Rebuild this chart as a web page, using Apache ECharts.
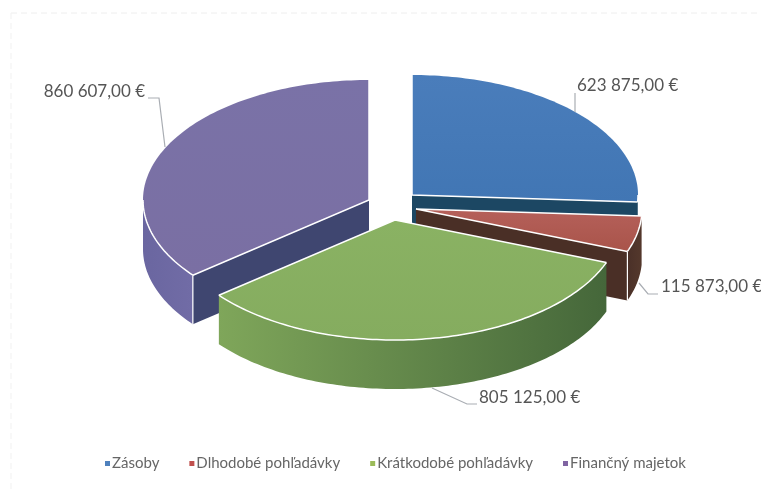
<!DOCTYPE html>
<html>
<head>
<meta charset="utf-8">
<style>
  html, body { margin: 0; padding: 0; background: #fff; }
  #chart { width: 761px; height: 489px; }
</style>
<script src="https://cdn.jsdelivr.net/npm/echarts@6/dist/echarts.min.js"></script>
</head>
<body>
<div id="chart"></div>
<script>
const categories = ['Zásoby', 'Dlhodobé pohľadávky', 'Krátkodobé pohľadávky', 'Finančný majetok'];
const values = [623875, 115873, 805125, 860607];

const total = values.reduce((a, b) => a + b, 0);

// pie geometry: ellipse of the tilted pie and its depth
const pieCenter = [393, 209];
const rx = 226, ry = 120, depth = 49;
// how far each slice is pulled out of the pie
const explode = [[19, -14], [23, 0], [2, 11], [-24, -9]];
// paint order, back to front
const paintOrder = [1, 2, 3, 0];

const topColor = [
  ['#4a7dbb', '#4176b4'], ['#b5605a', '#a9544a'], ['#8ab263', '#85ac5f'], ['#7a72a7', '#7a6fa3']
];
const faceColor = ['#1c4763', '#4a2f26', '#4a6d38', '#3f4670'];
const wallColor = [
  ['#1c4763', '#1c4763'], ['#4a3028', '#54382c'], ['#7fa65a', '#45673a'], ['#6a66a0', '#716ca6']
];
const legendColor = ['#4f81bd', '#c0504d', '#9bbb59', '#8064a2'];

const labelPos = [
  { x: 577, y: 86, align: 'left', line: [[575, 93], [575, 112]] },
  { x: 661, y: 287, align: 'left', line: [[639, 283], [648, 294], [658, 294]] },
  { x: 479, y: 398, align: 'left', line: [[432, 388], [467, 404], [477, 404]] },
  { x: 145, y: 92, align: 'right', line: [[148, 98], [159, 98], [165, 147]] }
];

function money(v) {
  return String(v).replace(/\B(?=(\d{3})+$)/g, ' ') + ',00 €';
}

function sliceAngles(i) {
  let before = 0;
  for (let k = 0; k < i; k++) before += values[k];
  return [before / total * Math.PI * 2, (before + values[i]) / total * Math.PI * 2];
}

function gradient(a, b, vertical) {
  return new echarts.graphic.LinearGradient(0, 0, vertical ? 0 : 1, vertical ? 1 : 0, [
    { offset: 0, color: a }, { offset: 1, color: b }
  ]);
}

function renderSlice(params, api) {
  const i = params.seriesIndex;
  const [a0, a1] = sliceAngles(i);
  const cx = pieCenter[0] + explode[i][0];
  const cy = pieCenter[1] + explode[i][1];
  const pt = (a, h) => [cx + rx * Math.sin(a), cy - ry * Math.cos(a) + (h || 0)];
  const arc = (from, to, h) => {
    const pts = [];
    const n = Math.max(2, Math.ceil(Math.abs(to - from) / 0.02));
    for (let k = 0; k <= n; k++) pts.push(pt(from + (to - from) * k / n, h));
    return pts;
  };
  const apex = [cx, cy];
  const apexLow = [cx, cy + depth];
  const children = [];

  // radial face at the end of the slice, only seen when it looks to the viewer
  if (a1 > Math.PI / 2 && a1 < Math.PI) {
    const p = pt(a1), q = pt(a1, depth);
    children.push({ type: 'polygon', shape: { points: [apex, p, q, apexLow] }, style: { fill: faceColor[i] } });
  }
  // radial face at the start of the slice
  if (a0 > Math.PI) {
    const p = pt(a0), q = pt(a0, depth);
    children.push({ type: 'polygon', shape: { points: [apex, p, q, apexLow] }, style: { fill: faceColor[i] } });
  }
  // outer wall, front half of the ellipse only
  const w0 = Math.max(a0, Math.PI / 2), w1 = Math.min(a1, Math.PI * 1.5);
  if (w1 > w0) {
    const upper = arc(w0, w1, 0), lower = arc(w1, w0, depth);
    children.push({
      type: 'polygon',
      shape: { points: upper.concat(lower) },
      style: { fill: gradient(wallColor[i][0], wallColor[i][1], false) }
    });
  }
  // top surface
  children.push({
    type: 'polygon',
    shape: { points: [apex].concat(arc(a0, a1, 0)) },
    style: { fill: gradient(topColor[i][0], topColor[i][1], true) }
  });
  // white highlights on the edges
  const edge = { stroke: '#fff', lineWidth: 1.5, fill: null };
  children.push({ type: 'polyline', shape: { points: [pt(a0), apex, pt(a1)] }, style: edge });
  if (w1 > w0) children.push({ type: 'polyline', shape: { points: arc(w0, w1, 0) }, style: edge });
  const corner = a0 > Math.PI ? a0 : (a1 < Math.PI ? a1 : null);
  if (corner !== null && i !== 0) {
    children.push({ type: 'line', shape: { x1: pt(corner)[0], y1: pt(corner)[1], x2: pt(corner)[0], y2: pt(corner, depth)[1] }, style: { stroke: '#fff', lineWidth: 1.2 } });
  }

  // leader line and value label
  const lab = labelPos[i];
  children.push({ type: 'polyline', shape: { points: lab.line }, style: { stroke: '#a9adb3', lineWidth: 1.2, fill: null } });
  children.push({
    type: 'text',
    style: {
      x: lab.x, y: lab.y, text: money(api.value(0)),
      fill: '#555', font: '17px Lato', align: lab.align, verticalAlign: 'middle'
    }
  });
  return { type: 'group', children };
}

const series = categories.map((name, i) => ({
  name,
  type: 'custom',
  coordinateSystem: 'none',
  silent: true,
  z: 2 + paintOrder[i],
  itemStyle: { color: legendColor[i] },
  renderItem: renderSlice,
  data: [[values[i]]]
}));

const chart = echarts.init(document.getElementById('chart'));
chart.setOption({
  animation: false,
  backgroundColor: '#fff',
  legend: {
    data: categories,
    left: 100,
    top: 451,
    icon: 'rect',
    itemWidth: 5,
    itemHeight: 5,
    itemGap: 30,
    textStyle: { color: '#666', fontFamily: 'Lato', fontSize: 15, padding: [0, 0, 0, -3] }
  },
  graphic: [
    { type: 'line', shape: { x1: 11, y1: 13, x2: 760, y2: 13 }, style: { stroke: '#eeeeee', lineWidth: 1, lineDash: [6, 4] } },
    { type: 'line', shape: { x1: 11, y1: 13, x2: 11, y2: 489 }, style: { stroke: '#f1f1f1', lineWidth: 1, lineDash: [6, 4] } }
  ],
  series
});
</script>
</body>
</html>
